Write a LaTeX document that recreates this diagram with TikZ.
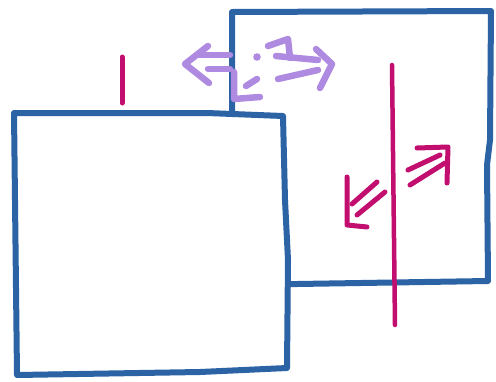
\documentclass[tikz,border=0pt]{standalone}
\usepackage{xcolor}
\usepackage{tikz}

\definecolor{sqblue}{HTML}{2B63A5}
\definecolor{cutred}{HTML}{C20E6E}
\definecolor{lilac}{HTML}{AE8BE0}

\tikzset{
  bluepen/.style={draw=sqblue, line width=6pt, line cap=round, line join=round},
  redpen/.style={draw=cutred, line width=5pt, line cap=round, line join=round},
  lilacpen/.style={draw=lilac, line width=6.5pt, line cap=round, line join=round}
}

\begin{document}
\begin{tikzpicture}[x=1pt,y=-1pt]
\useasboundingbox (0,0) rectangle (496,381);

% Draw back square
\draw[bluepen] (232,113) -- (232,12) -- (491,11) -- (490,140) -- (487,165) -- (488,281) -- (297,284) -- (270,284);

% Draw cut line through back square
\draw[redpen, line width=4.5pt] (392,65) -- (395,325);

% Draw push arrows
\draw[redpen] (377,182) -- (352,204);
\draw[redpen] (385,192) -- (357,215);
\draw[redpen] (347,177) -- (347,225) -- (367,227);
\draw[redpen] (408,170) -- (440,155);
\draw[redpen] (410,185) -- (445,163);
\draw[redpen] (417,148) -- (448,147) -- (447,183);

% Draw slide arrows
\draw[lilacpen] (230,55) -- (198,55);
\draw[lilacpen] (230,69) -- (208,69);
\draw[lilacpen] (208,46) -- (185,64) -- (209,83);
\draw[lilacpen] (234,72) -- (234,99) -- (260,97);
\fill[lilac] (257,57) circle (3.8);
\draw[lilacpen] (246,86) -- (257,79);
\draw[lilacpen] (268,46) -- (288,39) -- (290,58);
\draw[lilacpen] (276,56) -- (318,60);
\draw[lilacpen] (278,79) -- (318,70);
\draw[lilacpen] (316,49) -- (332,64) -- (320,88);

% Draw front square
\filldraw[bluepen, fill=white] (14,113) -- (207,113) -- (283,116) -- (285,200) -- (288,260) -- (287,368) -- (200,372) -- (17,375) -- cycle;

% Draw cut mark on front square
\draw[redpen] (122,57) -- (122,103);
\end{tikzpicture}
\end{document}
